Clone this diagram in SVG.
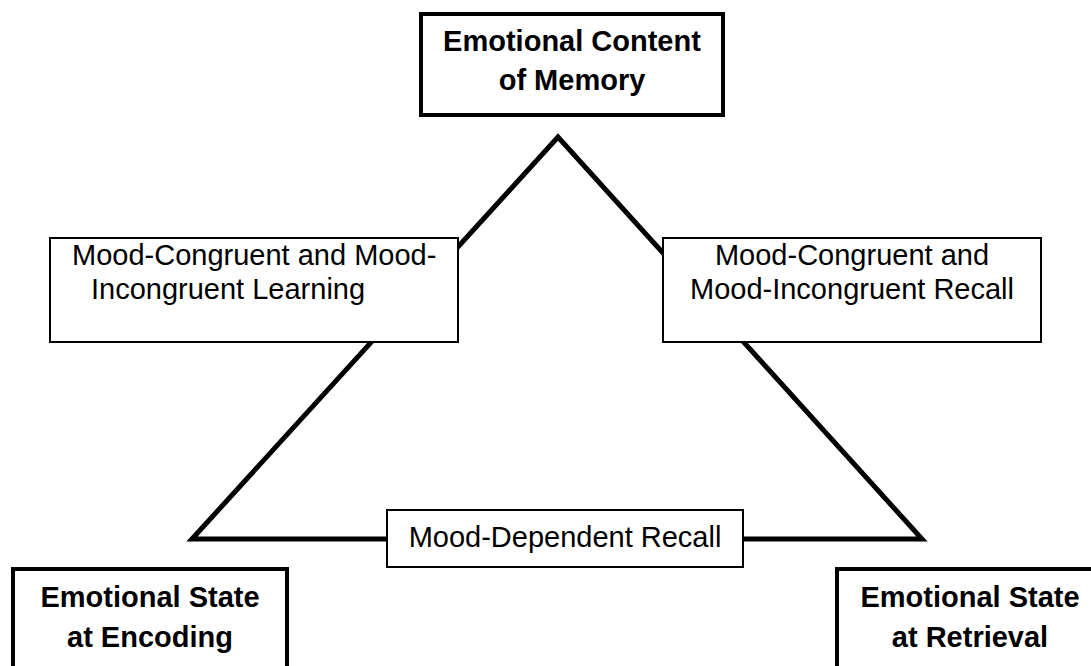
<svg xmlns="http://www.w3.org/2000/svg" width="1091" height="666" viewBox="0 0 1091 666">
<style>
.bg{fill:#ffffff}
.tri{fill:none;stroke:#000;stroke-width:5;stroke-linejoin:miter;stroke-miterlimit:10}
.main{fill:#fff;stroke:#000;stroke-width:4}
.sub{fill:#fff;stroke:#000;stroke-width:2}
.bt{font-family:"Liberation Sans",Arial,sans-serif;font-weight:bold;font-size:29px;fill:#000;text-anchor:middle}
.rt{font-family:"Liberation Sans",Arial,sans-serif;font-size:29px;fill:#000}
.c{text-anchor:middle}
</style>
<rect class="bg" x="0" y="0" width="1091" height="666"/>
<g id="connectors">
<polygon class="tri" points="192,539 558,137 922,539"/>
</g>
<g id="node-content">
<rect class="main" x="421" y="14" width="302" height="101"/>
<text class="bt" x="572" y="51">Emotional Content</text>
<text class="bt" x="572" y="90">of Memory</text>
</g>
<g id="node-encoding">
<rect class="main" x="13" y="569" width="274" height="120"/>
<text class="bt" x="150" y="607">Emotional State</text>
<text class="bt" x="150" y="647">at Encoding</text>
</g>
<g id="node-retrieval">
<rect class="main" x="837" y="569" width="300" height="120"/>
<text class="bt" x="970" y="607">Emotional State</text>
<text class="bt" x="970" y="647">at Retrieval</text>
</g>
<g id="label-learning">
<rect class="sub" x="50" y="238" width="408" height="104"/>
<text class="rt" x="72" y="265">Mood-Congruent and Mood-</text>
<text class="rt" x="91" y="299">Incongruent Learning</text>
</g>
<g id="label-recall">
<rect class="sub" x="663" y="238" width="378" height="104"/>
<text class="rt c" x="852" y="265">Mood-Congruent and</text>
<text class="rt c" x="852" y="299">Mood-Incongruent Recall</text>
</g>
<g id="label-dependent">
<rect class="sub" x="387" y="510" width="356" height="57"/>
<text class="rt c" x="565" y="547">Mood-Dependent Recall</text>
</g>
</svg>
